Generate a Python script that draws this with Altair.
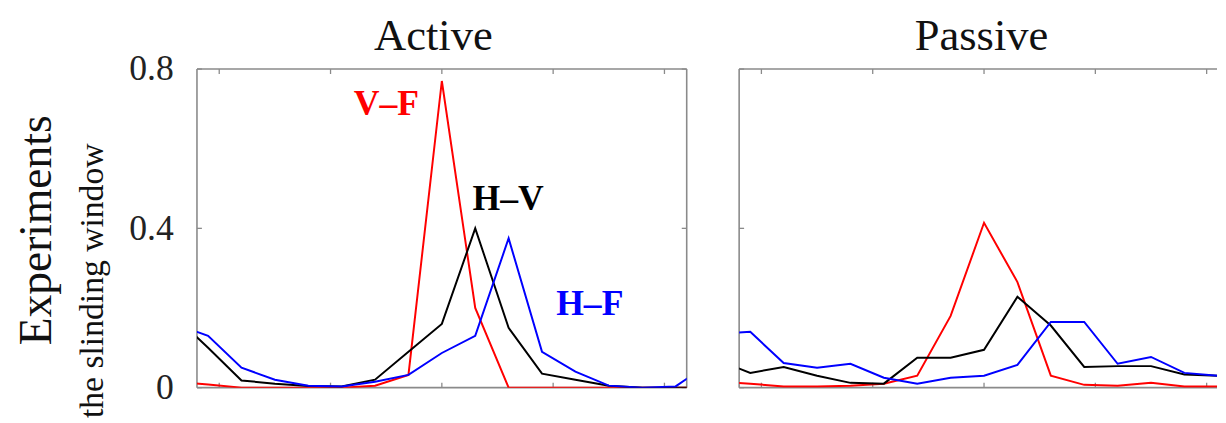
import altair as alt
import pandas as pd

# ---------------- data ----------------
t_vals = [-24, -21, -18, -15, -12, -9, -6, -3, 0, 3, 6, 9, 12, 15, 18, 21, 24]

active_vf = [0.015, 0.008, 0.0, 0.0, 0.0, 0.0, 0.005, 0.032, 0.77, 0.20, 0.0, 0.0, 0.0, 0.0, 0.0, 0.0, 0.0]
active_hv = [0.18, 0.10, 0.018, 0.01, 0.004, 0.003, 0.02, 0.09, 0.16, 0.40, 0.15, 0.035, 0.02, 0.005, 0.0, 0.0, 0.0]
active_hf = [0.16, 0.13, 0.05, 0.02, 0.005, 0.003, 0.015, 0.032, 0.087, 0.13, 0.375, 0.09, 0.04, 0.005, 0.0, 0.003, 0.06]

passive_vf = [0.015, 0.01, 0.003, 0.003, 0.005, 0.01, 0.03, 0.18, 0.414, 0.265, 0.03, 0.007, 0.005, 0.012, 0.003, 0.003, 0.003]
passive_hv = [0.07, 0.037, 0.052, 0.03, 0.012, 0.01, 0.075, 0.075, 0.095, 0.228, 0.156, 0.052, 0.054, 0.054, 0.033, 0.03, 0.03]
passive_hf = [0.135, 0.14, 0.062, 0.05, 0.06, 0.025, 0.01, 0.025, 0.03, 0.057, 0.165, 0.165, 0.06, 0.077, 0.037, 0.03, 0.03]

series_names = ["V–F", "H–V", "H–F"]
series_colors = ["#ff0000", "#000000", "#0000ff"]

# annotation positions for the Active panel (data units)
label_t = [-4.98, 5.96, 13.29]
label_v = [0.712, 0.473, 0.21]

x_ticks = [-20, -10, 0, 10, 20]
y_ticks = [0, 0.4, 0.8]

panel_titles = ["Active", "Passive"]
y_title = "Experiments"
y_subtitle = "the slinding window"

# ---------------- layout ----------------
W1, W2, H = 495, 483, 322
GRAY = "#8a8a8a"
SERIF = "Liberation Serif"

YS = alt.Scale(domain=[0, 0.8], nice=False, zero=True)
XS1 = alt.Scale(domain=[-22, 22], nice=False, zero=False)
XS2 = alt.Scale(domain=[-22, 20.93], nice=False, zero=False)

yaxis_left = alt.Axis(values=y_ticks, format="~g", ticks=False, domain=False, grid=False,
                      labelFont=SERIF, labelFontSize=36, labelColor="#222222",
                      labelPadding=24, title=None)

one = alt.Data(values=[{"a": 1}])


def panel(vals, xscale, width, title, title_x, yaxis, right_border, annotate):
    layers = []
    # borders
    layers.append(alt.Chart(one).mark_rule(color=GRAY, strokeWidth=1.6).encode(
        x=alt.value(0), x2=alt.value(width), y=alt.value(0)))
    layers.append(alt.Chart(one).mark_rule(color=GRAY, strokeWidth=1.6).encode(
        x=alt.value(0), x2=alt.value(width), y=alt.value(H)))
    layers.append(alt.Chart(one).mark_rule(color=GRAY, strokeWidth=1.6).encode(
        x=alt.value(0), y=alt.value(0), y2=alt.value(H)))
    if right_border:
        layers.append(alt.Chart(one).mark_rule(color=GRAY, strokeWidth=1.6).encode(
            x=alt.value(width), y=alt.value(0), y2=alt.value(H)))

    xt = pd.DataFrame({"t": x_ticks})
    yt = pd.DataFrame({"v": y_ticks})
    X = alt.X("t:Q", scale=xscale, axis=None)
    Y = alt.Y("v:Q", scale=YS, axis=yaxis)
    # inward ticks
    layers.append(alt.Chart(xt).mark_rule(color=GRAY, strokeWidth=1.3).encode(
        x=X, y=alt.value(0), y2=alt.value(5)))
    layers.append(alt.Chart(xt).mark_rule(color=GRAY, strokeWidth=1.3).encode(
        x=X, y=alt.value(H - 5), y2=alt.value(H)))
    layers.append(alt.Chart(yt).mark_rule(color=GRAY, strokeWidth=1.3).encode(
        y=Y, x=alt.value(0), x2=alt.value(5)))
    if right_border:
        layers.append(alt.Chart(yt).mark_rule(color=GRAY, strokeWidth=1.3).encode(
            y=Y, x=alt.value(width - 5), x2=alt.value(width)))

    # lines
    for name, col, v in zip(series_names, series_colors, vals):
        df = pd.DataFrame({"t": t_vals, "v": v})
        layers.append(alt.Chart(df).mark_line(color=col, strokeWidth=2, clip=True).encode(x=X, y=Y))

    # annotations
    if annotate:
        for name, col, lt, lv in zip(series_names, series_colors, label_t, label_v):
            ad = pd.DataFrame({"t": [lt], "v": [lv], "label": [name]})
            layers.append(alt.Chart(ad).mark_text(font=SERIF, fontSize=36, fontWeight="bold",
                                                  color=col, align="center", baseline="middle").encode(
                x=X, y=Y, text="label:N"))

    # title
    layers.append(alt.Chart(one).mark_text(text=title, font=SERIF, fontSize=45, color="#111111",
                                           align="center", baseline="alphabetic").encode(
        x=alt.value(title_x), y=alt.value(-19.5)))

    if yaxis is not None:
        layers.append(alt.Chart(one).mark_text(text=y_title, font=SERIF, fontSize=46, color="#111111",
                                               angle=270, align="center", baseline="middle").encode(
            x=alt.value(-161.5), y=alt.value(163)))
        layers.append(alt.Chart(one).mark_text(text=y_subtitle, font=SERIF, fontSize=34, color="#111111",
                                               angle=270, align="center", baseline="middle").encode(
            x=alt.value(-104.8), y=alt.value(214)))

    return alt.layer(*layers).properties(width=width, height=H)


left = panel([active_vf, active_hv, active_hf], XS1, W1, panel_titles[0], 239, yaxis_left, True, True)
right = panel([passive_vf, passive_hv, passive_hf], XS2, W2, panel_titles[1], 245, None, False, False)

chart = alt.hconcat(left, right, spacing=51).properties(
    padding={"left": 6, "top": 3.5, "right": 0, "bottom": 0},
    background="white",
).configure_view(stroke=None)

chart.save("out.html", embed_options={"renderer": "svg", "actions": False})
